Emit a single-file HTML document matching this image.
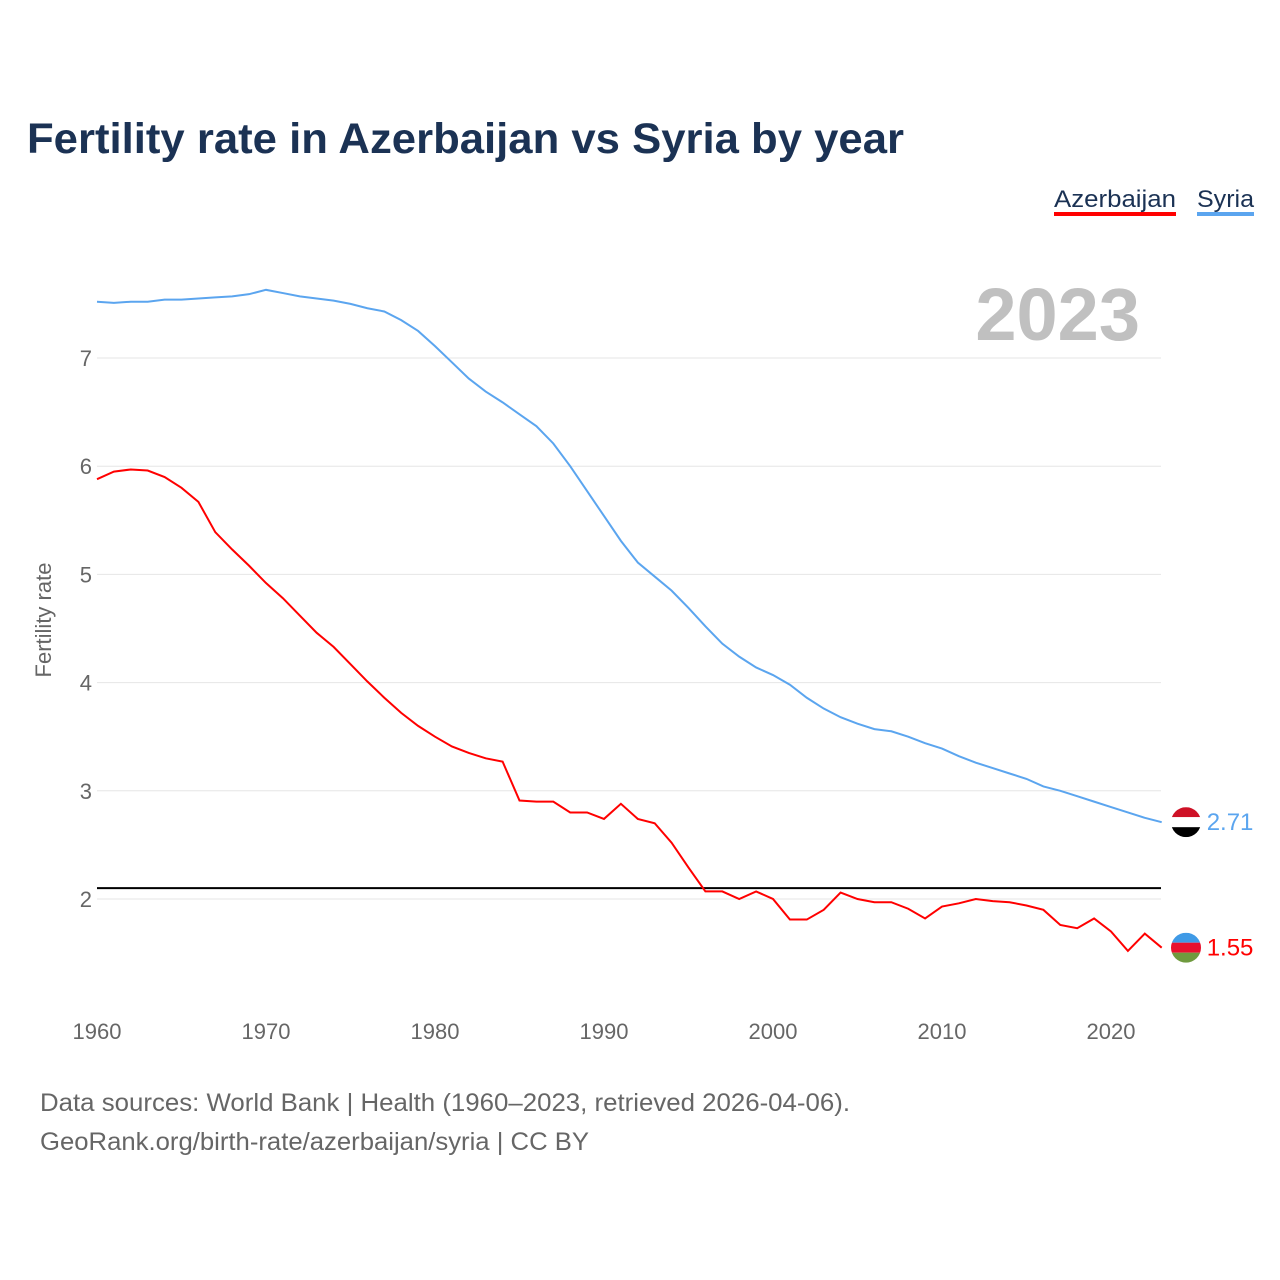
<!DOCTYPE html>
<html><head><meta charset="utf-8"><style>
html,body{margin:0;padding:0;background:#fff;width:1280px;height:1280px;overflow:hidden}
svg{display:block;font-family:"Liberation Sans",sans-serif}
</style></head><body>
<svg id="chart" width="1280" height="1280">
<text x="27" y="153" font-size="43" font-weight="bold" fill="#1b3254" textLength="877" lengthAdjust="spacingAndGlyphs">Fertility rate in Azerbaijan vs Syria by year</text>
<g><text x="1054" y="207" font-size="24" fill="#1b3254" textLength="122" lengthAdjust="spacingAndGlyphs">Azerbaijan</text><rect x="1054" y="212" width="122" height="4" fill="#ff0000"/></g>
<g><text x="1197" y="207" font-size="24" fill="#1b3254" textLength="57" lengthAdjust="spacingAndGlyphs">Syria</text><rect x="1197" y="212" width="57" height="4" fill="#5ba5ef"/></g>
<text x="1140" y="340" font-size="74" font-weight="bold" fill="#c0c0c0" text-anchor="end">2023</text>
<text transform="translate(51,620) rotate(-90)" font-size="22" fill="#666" text-anchor="middle">Fertility rate</text>
<g id="grid"></g><g id="marks"></g>
<text x="40" y="1111" font-size="25" fill="#666" textLength="810" lengthAdjust="spacingAndGlyphs">Data sources: World Bank | Health (1960–2023, retrieved 2026-04-06).</text>
<text x="40" y="1150" font-size="25" fill="#666" textLength="549" lengthAdjust="spacingAndGlyphs">GeoRank.org/birth-rate/azerbaijan/syria | CC BY</text>
</svg>
<script>
const years=[];for(let y=1960;y<=2023;y++)years.push(y);
const syria=[7.52,7.51,7.52,7.52,7.54,7.54,7.55,7.56,7.57,7.59,7.63,7.60,7.57,7.55,7.53,7.50,7.46,7.43,7.35,7.25,7.11,6.96,6.81,6.69,6.59,6.48,6.37,6.21,6.00,5.77,5.54,5.31,5.11,4.98,4.85,4.69,4.52,4.36,4.24,4.14,4.07,3.98,3.86,3.76,3.68,3.62,3.57,3.55,3.50,3.44,3.39,3.32,3.26,3.21,3.16,3.11,3.04,3.00,2.95,2.90,2.85,2.80,2.75,2.71];
const azerbaijan=[5.88,5.95,5.97,5.96,5.90,5.80,5.67,5.39,5.23,5.08,4.92,4.78,4.62,4.46,4.33,4.17,4.01,3.86,3.72,3.60,3.50,3.41,3.35,3.30,3.27,2.91,2.90,2.90,2.80,2.80,2.74,2.88,2.74,2.70,2.52,2.29,2.07,2.07,2.00,2.07,2.00,1.81,1.81,1.90,2.06,2.00,1.97,1.97,1.91,1.82,1.93,1.96,2.00,1.98,1.97,1.94,1.90,1.76,1.73,1.82,1.70,1.52,1.68,1.55];
const yTicks=[2,3,4,5,6,7];
const xTicks=[1960,1970,1980,1990,2000,2010,2020];
const replacement=2.1;
const X=y=>97+(y-1960)*(1014/60);
const Y=v=>899-(v-2)*108.2;
const NS='http://www.w3.org/2000/svg';
const grid=document.getElementById('grid'),marks=document.getElementById('marks');
function mk(tag,attrs,parent){const e=document.createElementNS(NS,tag);for(const k in attrs)e.setAttribute(k,attrs[k]);parent.appendChild(e);return e;}
yTicks.forEach(v=>{
 const l=mk('line',{x1:97,x2:1161,y1:Y(v),y2:Y(v),stroke:'#e6e6e6','stroke-width':1},grid);
 
 
 const t=mk('text',{x:92,y:Y(v)+8,'font-size':22,fill:'#666','text-anchor':'end'},grid);t.textContent=v;
 
 
});
xTicks.forEach(v=>{
 const t=mk('text',{x:X(v),y:1039,'font-size':22,fill:'#666','text-anchor':'middle'},grid);t.textContent=v;
 
 
});
const rl=mk('line',{x1:97,x2:1161,y1:Y(replacement),y2:Y(replacement),stroke:'#000','stroke-width':2},marks);


function series(vals,color,name){
 const p=mk('polyline',{points:vals.map((v,i)=>X(years[i])+','+Y(v)).join(' '),fill:'none',stroke:color,'stroke-width':2},marks);
 
 
 const last=vals[vals.length-1],lx=X(years[years.length-1]);
 const t=mk('text',{x:lx+45,y:Y(last)+8,'font-size':24,fill:color},marks);t.textContent=last.toFixed(2);
 
 
 return Y(last);
}
const sy=series(syria,'#5ba5ef','syria');
const ay=series(azerbaijan,'#ff0000','azerbaijan');
function flag(cy,cols,name){
 const g=mk('g',{},marks);
 
 
 const id='c'+name;const cp=mk('clipPath',{id:id},g);mk('circle',{cx:1186,cy:cy,r:15},cp);
 cols.forEach((c,i)=>mk('rect',{x:1171,y:cy-15+i*10,width:30,height:10,fill:c,'clip-path':'url(#'+id+')'},g));
}
flag(sy,['#ce1126','#ffffff','#000000'],'syria');
flag(ay,['#3f9ae6','#e8102e','#6f9a3e'],'azerbaijan');
</script>
</body></html>
